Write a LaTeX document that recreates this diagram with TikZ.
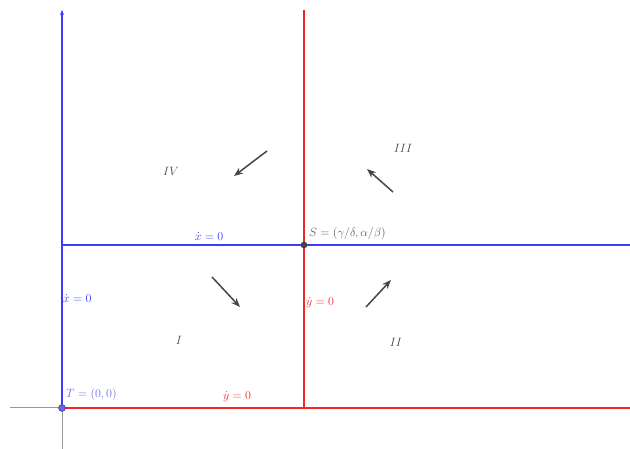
\documentclass[tikz,border=0pt]{standalone}
\usepackage{amsmath,amssymb}
\usepackage{xcolor}
\usetikzlibrary{arrows.meta}
\definecolor{bluex}{HTML}{3C3CFF}
\definecolor{redx}{HTML}{F02828}
\definecolor{darkx}{HTML}{464646}
\definecolor{greyx}{HTML}{5A5A5A}
\definecolor{lblue}{HTML}{7070E0}
\tikzset{
  axisg/.style={draw=gray!80,line width=1pt},
  ncl/.style={line width=1.4pt},
  fl/.style={-{Stealth[length=9pt,width=7pt]},line width=1.5pt,darkx},
  pt/.style={circle,draw=black!80,inner sep=0pt,minimum size=6pt},
  lab/.style={font=\large,inner sep=1pt},
  reg/.style={font=\large,inner sep=0pt}
}
\begin{document}
\begin{tikzpicture}[x=1pt,y=-1pt]
\useasboundingbox (0,0) rectangle (630,449);
% axes
\coordinate (xl) at (10,408);
\coordinate (xr) at (630,408);
\coordinate (yb) at (62,449);
\coordinate (yt) at (62,10);
\draw[axisg] (xl) -- (xr);
\draw[axisg] (yb) -- (62,408);
% nullclines
\coordinate (hl) at (62,245);
\coordinate (hr) at (630,245);
\coordinate (vt) at (304,10);
\coordinate (vb) at (304,408);
\draw[ncl,bluex,-{Stealth[length=5pt,width=4pt]}] (62,408) -- (yt);
\draw[ncl,bluex] (hl) -- (hr);
\draw[ncl,redx] (vt) -- (vb);
\draw[ncl,redx] (62,408) -- (xr);
% equilibria
\node[pt,fill=bluex!80,minimum size=7pt] (T) at (62,408) {};
\node[pt,fill=darkx] (S) at (304,245) {};
\node[lab,lblue,anchor=west] at (65,395) {$T=(0,0)$};
\node[lab,greyx,anchor=west] at (308,234) {$S=(\gamma/\delta,\alpha/\beta)$};
% labels
\node[lab,bluex] at (209,237) {$\dot{x}=0$};
\node[lab,bluex,anchor=west] at (62,299) {$\dot{x}=0$};
\node[lab,redx,anchor=west] at (305,303) {$\dot{y}=0$};
\node[lab,redx] at (237,397) {$\dot{y}=0$};
% regions
\foreach \xx/\yy/\r in {171/171/IV,403/148/III,179/340/I,396/342/II}{\node[reg,darkx] at (\xx,\yy) {$\r$};}
% direction field
\foreach \n/\ax/\ay/\bx/\by in {1/267/151/234/176,2/393/192/367/169,3/212/277/240/307,4/366/307/391/280}{
  \coordinate (f\n a) at (\ax,\ay);
  \coordinate (f\n b) at (\bx,\by);
  \draw[fl] (f\n a) -- (f\n b);}
\end{tikzpicture}
\end{document}
